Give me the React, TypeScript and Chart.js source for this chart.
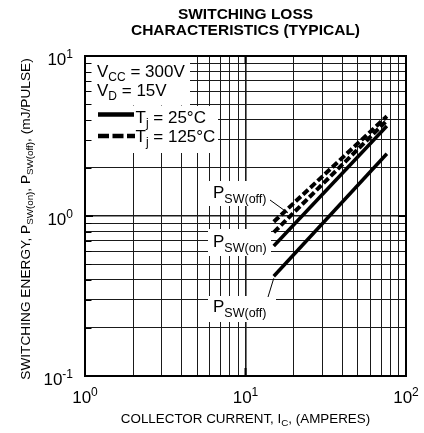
import { useEffect, useRef } from 'react';
import { Chart, registerables } from 'chart.js';

Chart.register(...registerables);

const FONT = '"Liberation Sans", Arial, Helvetica, sans-serif';

// Collector current (A) at the ends of each curve
const collectorCurrent = [15, 76];
// Switching energy (mJ/pulse)
const pswOff125 = [0.92, 4.2];
const pswOn125 = [0.79, 3.95];
const pswOn25 = [0.65, 3.65];
const pswOff25 = [0.42, 2.45];

// grid / tick values
const xGrid = [1, 2, 3, 4, 5, 6, 7, 8, 9, 10, 20, 30, 40, 50, 60, 70, 80, 90, 100];
const yGrid = [0.1, 0.2, 0.3, 0.4, 0.5, 0.6, 0.7, 0.8, 0.9, 1, 2, 3, 4, 5, 6, 7, 8, 9, 10];
const xDecades = [1, 10, 100];
const xExps = ['0', '1', '2'];
const yDecades = [0.1, 1, 10];
const yExps = ['-1', '0', '1'];

type Part = { t: string; size: number; dy?: number; bold?: boolean };

function drawRich(ctx: CanvasRenderingContext2D, parts: Part[], x: number, y: number, align: 'left' | 'center' | 'right') {
  let w = 0;
  for (const p of parts) {
    ctx.font = `${p.bold ? 'bold ' : ''}${p.size}px ${FONT}`;
    w += ctx.measureText(p.t).width;
  }
  let cx = align === 'left' ? x : align === 'center' ? x - w / 2 : x - w;
  ctx.textAlign = 'left';
  ctx.textBaseline = 'alphabetic';
  for (const p of parts) {
    ctx.font = `${p.bold ? 'bold ' : ''}${p.size}px ${FONT}`;
    ctx.fillText(p.t, cx, y + (p.dy || 0));
    cx += ctx.measureText(p.t).width;
  }
}

const isDecade = (v: number) => Math.abs(Math.log10(v) - Math.round(Math.log10(v))) < 1e-9;

const decor = {
  id: 'decor',
  beforeDatasetsDraw(chart: any) {
    const ctx: CanvasRenderingContext2D = chart.ctx;
    const a = chart.chartArea;
    const ys = chart.scales.y;
    ctx.save();
    ctx.fillStyle = '#fff';
    // legend boxes
    ctx.fillRect(a.left, a.top, 105, 49.5);
    ctx.fillRect(a.left, a.top + 50, 133, 47);
    // label boxes
    ctx.fillRect(208, 181, 64, 25);
    ctx.fillRect(208, 229, 63, 27);
    ctx.fillRect(208, 296, 68, 26);
    // inward minor ticks on the left edge
    ctx.strokeStyle = '#000';
    ctx.lineWidth = 1;
    for (const v of yGrid) {
      const py = Math.round(ys.getPixelForValue(v)) + 0.5;
      ctx.beginPath();
      ctx.moveTo(a.left, py);
      ctx.lineTo(a.left + 6.5, py);
      ctx.stroke();
    }
    ctx.restore();
  },
  afterDatasetsDraw(chart: any) {
    const ctx: CanvasRenderingContext2D = chart.ctx;
    const xs = chart.scales.x;
    const ys = chart.scales.y;
    ctx.save();
    ctx.fillStyle = '#000';
    ctx.strokeStyle = '#000';
    // legend text
    drawRich(ctx, [{ t: 'V', size: 17 }, { t: 'CC', size: 12, dy: 4 }, { t: ' = 300V', size: 17 }], 97, 76.5, 'left');
    drawRich(ctx, [{ t: 'V', size: 17 }, { t: 'D', size: 12, dy: 4 }, { t: ' = 15V', size: 17 }], 97, 95.5, 'left');
    ctx.lineWidth = 4.5;
    ctx.lineCap = 'butt';
    ctx.beginPath();
    ctx.moveTo(98, 114.5);
    ctx.lineTo(134, 114.5);
    ctx.stroke();
    ctx.setLineDash([11, 3.5]);
    ctx.beginPath();
    ctx.moveTo(98, 136);
    ctx.lineTo(135, 136);
    ctx.stroke();
    ctx.setLineDash([]);
    drawRich(ctx, [{ t: 'T', size: 17 }, { t: 'j', size: 12, dy: 4 }, { t: ' = 25°C', size: 17 }], 135.5, 122.5, 'left');
    drawRich(ctx, [{ t: 'T', size: 17 }, { t: 'j', size: 12, dy: 4 }, { t: ' = 125°C', size: 17 }], 135.5, 142, 'left');
    // curve labels
    drawRich(ctx, [{ t: 'P', size: 17 }, { t: 'SW(off)', size: 12.5, dy: 5 }], 213, 198, 'left');
    drawRich(ctx, [{ t: 'P', size: 17 }, { t: 'SW(on)', size: 12.5, dy: 5 }], 213, 247, 'left');
    drawRich(ctx, [{ t: 'P', size: 17 }, { t: 'SW(off)', size: 12.5, dy: 5 }], 213, 312, 'left');
    // leader lines
    ctx.lineWidth = 1;
    ctx.beginPath();
    ctx.moveTo(270, 200);
    ctx.lineTo(288, 213);
    ctx.stroke();
    const sx = xs.getPixelForValue(collectorCurrent[0]);
    const sy = ys.getPixelForValue(pswOff25[0]);
    ctx.beginPath();
    ctx.moveTo(268, 297);
    ctx.lineTo(sx, sy + 2);
    ctx.stroke();
    ctx.restore();
  },
  afterDraw(chart: any) {
    const ctx: CanvasRenderingContext2D = chart.ctx;
    const a = chart.chartArea;
    const xs = chart.scales.x;
    const ys = chart.scales.y;
    ctx.save();
    ctx.strokeStyle = '#000';
    ctx.fillStyle = '#000';
    ctx.lineWidth = 2;
    ctx.strokeRect(a.left, a.top, a.right - a.left, a.bottom - a.top);
    // major ticks
    ctx.lineWidth = 2;
    for (const v of yDecades) {
      const py = ys.getPixelForValue(v);
      ctx.beginPath();
      ctx.moveTo(a.left, py);
      ctx.lineTo(a.left + 8, py);
      ctx.moveTo(a.right, py);
      ctx.lineTo(a.right - 8, py);
      ctx.stroke();
    }
    for (const v of xDecades) {
      const px = xs.getPixelForValue(v);
      ctx.beginPath();
      ctx.moveTo(px, a.bottom);
      ctx.lineTo(px, a.bottom - 8);
      ctx.moveTo(px, a.top);
      ctx.lineTo(px, a.top + 8);
      ctx.stroke();
    }
    // tick labels
    xDecades.forEach((v, i) => {
      drawRich(ctx, [{ t: '10', size: 17 }, { t: xExps[i], size: 12, dy: -7 }], xs.getPixelForValue(v), a.bottom + 27, 'center');
    });
    yDecades.forEach((v, i) => {
      drawRich(ctx, [{ t: '10', size: 17 }, { t: yExps[i], size: 12, dy: -7 }], a.left - 12, ys.getPixelForValue(v) + 8.5, 'right');
    });
    // titles
    drawRich(ctx, [{ t: 'SWITCHING LOSS', size: 15.5, bold: true }], (a.left + a.right) / 2, 18.5, 'center');
    drawRich(ctx, [{ t: 'CHARACTERISTICS (TYPICAL)', size: 15.5, bold: true }], (a.left + a.right) / 2, 35, 'center');
    drawRich(
      ctx,
      [{ t: 'COLLECTOR CURRENT, I', size: 13.4 }, { t: 'C', size: 9.8, dy: 3 }, { t: ', (AMPERES)', size: 13.4 }],
      (a.left + a.right) / 2,
      423,
      'center'
    );
    ctx.translate(30, 219);
    ctx.rotate(-Math.PI / 2);
    drawRich(
      ctx,
      [
        { t: 'SWITCHING ENERGY, P', size: 13.7 },
        { t: 'SW(on)', size: 9.8, dy: 3 },
        { t: ', P', size: 13.7 },
        { t: 'SW(off)', size: 9.8, dy: 3 },
        { t: ', (mJ/PULSE)', size: 13.7 },
      ],
      0,
      0,
      'center'
    );
    ctx.restore();
  },
};

function makeSet(ys: number[], dash: number[]) {
  return {
    data: collectorCurrent.map((x, i) => ({ x, y: ys[i] })),
    borderColor: '#000',
    backgroundColor: '#000',
    borderWidth: dash.length ? 4 : 3.5,
    borderDash: dash,
    borderCapStyle: 'butt' as const,
    pointRadius: 0,
    fill: false,
    tension: 0,
  };
}

export default function App() {
  const ref = useRef<HTMLCanvasElement>(null);
  useEffect(() => {
    if (!ref.current) return;
    const gridOpts = {
      display: true,
      drawTicks: false,
      color: '#1a1a1a',
      lineWidth: (c: any) => (c.tick && isDecade(c.tick.value) ? 1.6 : 1),
    };
    const chart = new Chart(ref.current, {
      type: 'line',
      data: {
        datasets: [
          makeSet(pswOff125, [7, 3]),
          makeSet(pswOn125, [7, 3]),
          makeSet(pswOn25, []),
          makeSet(pswOff25, []),
        ],
      },
      options: {
        responsive: false,
        animation: false,
        layout: { padding: { left: 85, right: 18, top: 56, bottom: 57 } },
        plugins: { legend: { display: false }, tooltip: { enabled: false }, title: { display: false } },
        scales: {
          x: {
            type: 'logarithmic',
            min: 1,
            max: 100,
            ticks: { display: false },
            grid: gridOpts as any,
            border: { display: false },
            afterBuildTicks: (s: any) => {
              s.ticks = xGrid.map((v) => ({ value: v }));
            },
            afterFit: (s: any) => {
              s.height = 0;
            },
          },
          y: {
            type: 'logarithmic',
            min: 0.1,
            max: 10,
            ticks: { display: false },
            grid: gridOpts as any,
            border: { display: false },
            afterBuildTicks: (s: any) => {
              s.ticks = yGrid.map((v) => ({ value: v }));
            },
            afterFit: (s: any) => {
              s.width = 0;
            },
          },
        },
      },
      plugins: [decor],
    });
    return () => chart.destroy();
  }, []);
  return (
    <div style={{ position: 'absolute', left: 0, top: 0, width: 424, height: 433, background: '#fff' }}>
      <canvas ref={ref} width={424} height={433} />
    </div>
  );
}
